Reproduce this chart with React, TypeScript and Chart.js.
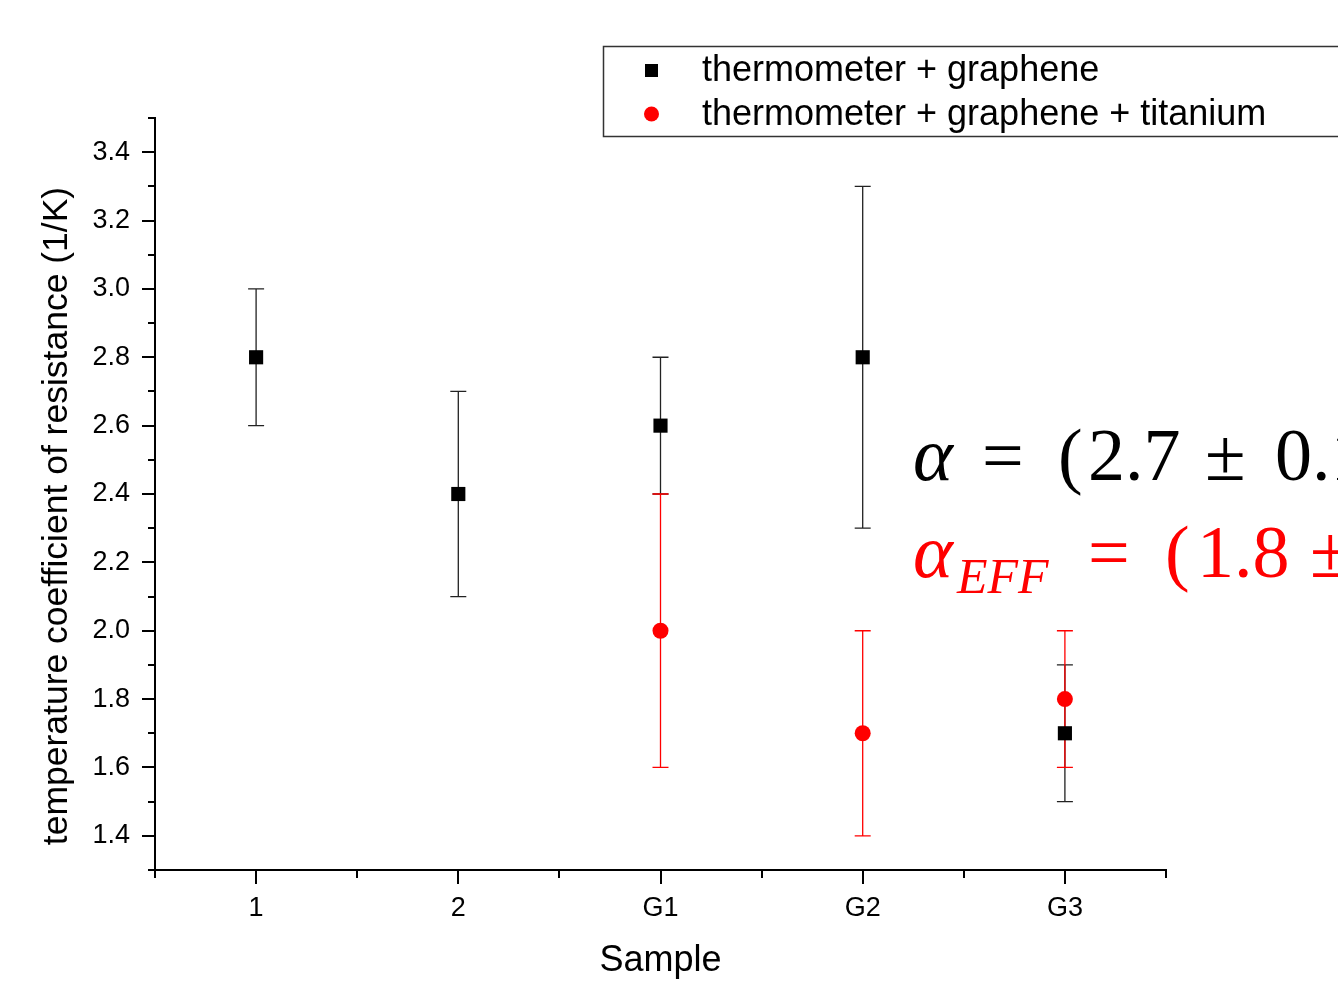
import React, { useEffect, useRef } from 'react';
import { Chart, registerables } from 'chart.js';

Chart.register(...registerables);

const categories = ['1', '2', 'G1', 'G2', 'G3'];
const grapheneX = [0, 1, 2, 3, 4];
const grapheneValues = [2.8, 2.4, 2.6, 2.8, 1.7];
const grapheneErrors = [0.2, 0.3, 0.2, 0.5, 0.2];
const titaniumX = [2, 3, 4];
const titaniumValues = [2.0, 1.7, 1.8];
const titaniumErrors = [0.4, 0.3, 0.2];
const yMajorTicks = [1.4, 1.6, 1.8, 2.0, 2.2, 2.4, 2.6, 2.8, 3.0, 3.2, 3.4];
const yMinorTicks = [1.3, 1.5, 1.7, 1.9, 2.1, 2.3, 2.5, 2.7, 2.9, 3.1, 3.3, 3.5];
const xMajorTicks = [0, 1, 2, 3, 4];
const xMinorTicks = [-0.5, 0.5, 1.5, 2.5, 3.5, 4.5];
const legendLabels = ['thermometer + graphene', 'thermometer + graphene + titanium'];

const SANS = "'Liberation Sans', Arial, sans-serif";
const SERIF = "'Liberation Serif', 'DejaVu Serif', serif";

const errorBarPlugin = {
  id: 'errorBars',
  beforeDatasetsDraw(chart: any) {
    const xs = chart.scales.x;
    const ys = chart.scales.y;
    const ctx = chart.ctx;
    ctx.save();
    chart.data.datasets.forEach((ds: any) => {
      ctx.strokeStyle = ds.errorColor;
      ctx.lineWidth = 1.3;
      ds.data.forEach((p: any) => {
        const x = xs.getPixelForValue(p.x);
        const yTop = ys.getPixelForValue(p.y + p.err);
        const yBot = ys.getPixelForValue(p.y - p.err);
        ctx.beginPath();
        ctx.moveTo(x, yTop);
        ctx.lineTo(x, yBot);
        ctx.moveTo(x - 8, yTop);
        ctx.lineTo(x + 8, yTop);
        ctx.moveTo(x - 8, yBot);
        ctx.lineTo(x + 8, yBot);
        ctx.stroke();
      });
    });
    ctx.restore();
  },
};

const decorPlugin = {
  id: 'decor',
  afterDraw(chart: any) {
    const ctx = chart.ctx;
    const xs = chart.scales.x;
    const ys = chart.scales.y;
    const area = chart.chartArea;
    ctx.save();
    // ticks
    ctx.strokeStyle = '#000';
    ctx.lineWidth = 2;
    ctx.beginPath();
    yMajorTicks.forEach((v) => {
      const y = Math.round(ys.getPixelForValue(v));
      ctx.moveTo(area.left - 13, y);
      ctx.lineTo(area.left, y);
    });
    yMinorTicks.forEach((v) => {
      const y = Math.round(ys.getPixelForValue(v));
      ctx.moveTo(area.left - 7, y);
      ctx.lineTo(area.left, y);
    });
    xMajorTicks.forEach((v) => {
      const x = Math.round(xs.getPixelForValue(v));
      ctx.moveTo(x, area.bottom);
      ctx.lineTo(x, area.bottom + 14);
    });
    xMinorTicks.forEach((v) => {
      const x = Math.round(xs.getPixelForValue(v));
      ctx.moveTo(x, area.bottom);
      ctx.lineTo(x, area.bottom + 8);
    });
    ctx.stroke();

    // y title
    ctx.save();
    ctx.translate(57, 516);
    ctx.rotate(-Math.PI / 2);
    ctx.fillStyle = '#000';
    ctx.font = `35.5px ${SANS}`;
    ctx.textAlign = 'center';
    ctx.textBaseline = 'middle';
    ctx.fillText('temperature coefficient of resistance (1/K)', 0, 0);
    ctx.restore();

    // legend
    ctx.strokeStyle = '#333';
    ctx.lineWidth = 1.5;
    ctx.strokeRect(603.5, 46.5, 800, 90);
    ctx.fillStyle = '#000';
    ctx.fillRect(645, 64, 13, 13);
    ctx.fillStyle = '#ff0000';
    ctx.beginPath();
    ctx.arc(651.5, 114, 7.5, 0, Math.PI * 2);
    ctx.fill();
    ctx.fillStyle = '#000';
    ctx.font = `36px ${SANS}`;
    ctx.textAlign = 'left';
    ctx.textBaseline = 'middle';
    ctx.fillText(legendLabels[0], 702, 71);
    ctx.fillText(legendLabels[1], 702, 115);

    // formula annotations
    ctx.textBaseline = 'alphabetic';
    ctx.fillStyle = '#000';
    ctx.font = `italic 76px ${SERIF}`;
    ctx.fillText('α', 913, 480);
    ctx.font = `74px ${SERIF}`;
    ctx.fillText('=', 982, 480);
    ctx.fillText('(', 1058, 480);
    ctx.fillText('2.7', 1088, 480);
    ctx.fillText('±', 1205, 480);
    ctx.fillText('0.1)', 1275, 480);

    ctx.fillStyle = '#ff0000';
    ctx.font = `italic 76px ${SERIF}`;
    ctx.fillText('α', 913, 577);
    ctx.font = `italic 50px ${SERIF}`;
    ctx.fillText('EFF', 957, 593);
    ctx.font = `74px ${SERIF}`;
    ctx.fillText('=', 1088, 577);
    ctx.fillText('(', 1165, 577);
    ctx.fillText('1.8', 1197, 577);
    ctx.fillText('±', 1310, 577);
    ctx.fillText('0.2)', 1360, 577);
    ctx.restore();
  },
};

export default function App() {
  const ref = useRef<HTMLCanvasElement | null>(null);
  useEffect(() => {
    document.body.style.margin = '0';
    const canvas = ref.current;
    if (!canvas) return;
    const chart = new Chart(canvas, {
      type: 'scatter',
      data: {
        datasets: [
          {
            label: legendLabels[0],
            data: grapheneX.map((x, i) => ({ x, y: grapheneValues[i], err: grapheneErrors[i] })),
            backgroundColor: '#000',
            borderColor: '#000',
            pointStyle: 'rect',
            pointRadius: 10,
            pointHoverRadius: 10,
            borderWidth: 0,
            errorColor: '#222',
          } as any,
          {
            label: legendLabels[1],
            data: titaniumX.map((x, i) => ({ x, y: titaniumValues[i], err: titaniumErrors[i] })),
            backgroundColor: '#ff0000',
            borderColor: '#ff0000',
            pointStyle: 'circle',
            pointRadius: 8,
            pointHoverRadius: 8,
            borderWidth: 0,
            errorColor: '#ff0000',
          } as any,
        ],
      },
      options: {
        responsive: false,
        animation: false,
        devicePixelRatio: 1,
        layout: { padding: { left: 0, top: 118, right: 172, bottom: 0 } },
        plugins: {
          legend: { display: false },
          tooltip: { enabled: false },
        },
        scales: {
          x: {
            type: 'linear',
            min: -0.5,
            max: 4.5,
            afterFit: (s: any) => { s.height = 113; },
            afterBuildTicks: (s: any) => { s.ticks = xMajorTicks.map((v) => ({ value: v })); },
            grid: { display: true, drawOnChartArea: false, drawTicks: false },
            border: { display: true, color: '#000', width: 2 },
            ticks: {
              padding: 22,
              color: '#000',
              font: { family: SANS, size: 27 },
              callback: (v: any) => categories[Math.round(Number(v))] ?? '',
              maxRotation: 0,
              autoSkip: false,
            },
            title: {
              display: true,
              text: 'Sample',
              color: '#000',
              font: { family: SANS, size: 36 },
              padding: 0,
            },
          },
          y: {
            type: 'linear',
            min: 1.3,
            max: 3.5,
            afterFit: (s: any) => { s.width = 155; },
            afterBuildTicks: (s: any) => { s.ticks = yMajorTicks.map((v) => ({ value: v })); },
            grid: { display: true, drawOnChartArea: false, drawTicks: false },
            border: { display: true, color: '#000', width: 2 },
            ticks: {
              padding: 25,
              color: '#000',
              font: { family: SANS, size: 27 },
              callback: (v: any) => Number(v).toFixed(1),
              autoSkip: false,
            },
          },
        },
      },
      plugins: [errorBarPlugin, decorPlugin],
    });
    return () => chart.destroy();
  }, []);
  return (
    <div style={{ position: 'fixed', left: 0, top: 0, width: 1338, height: 983, overflow: 'hidden', background: '#fff' }}>
      <canvas ref={ref} width={1338} height={983} style={{ display: 'block' }} />
    </div>
  );
}
